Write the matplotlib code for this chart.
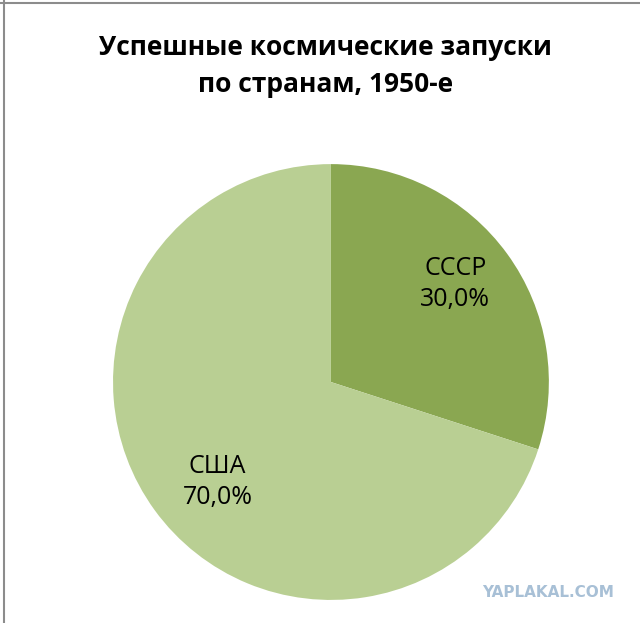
import matplotlib.pyplot as plt
from matplotlib.lines import Line2D

# data
countries = ['СССР', 'США']
shares = [30.0, 70.0]
colors = ['#8aa751', '#b9cf93']

plt.rcParams['font.family'] = ['Open Sans', 'DejaVu Sans']

fig = plt.figure(figsize=(6.4, 6.23), dpi=100)
ax = fig.add_axes([0.1766, 0.0369, 0.681, 0.6998])

labels = [f'{c}\n{v:.1f}%'.replace('.', ',') for c, v in zip(countries, shares)]
wedges, texts = ax.pie(shares, colors=colors, startangle=90, counterclock=False,
                       labels=labels, labeldistance=0.73, radius=1.0,
                       textprops={'fontsize': 18, 'color': 'black',
                                  'ha': 'center', 'va': 'center',
                                  'linespacing': 1.3})
# nudge the labels a little, like the original
x, y = texts[0].get_position()
texts[0].set_position((x - 0.02, y + 0.02))
x, y = texts[1].get_position()
texts[1].set_position((x + 0.07, y - 0.03))

ax.set_xlim(-1, 1)
ax.set_ylim(-1, 1)
ax.set_aspect('equal')

fig.text(0.508, 0.894, 'Успешные космические запуски\nпо странам, 1950-е',
         ha='center', va='center', fontsize=19, fontweight='bold',
         linespacing=1.5)

# frame lines (top and left only)
fig.add_artist(Line2D([0, 1], [1 - 3 / 623, 1 - 3 / 623], color='#8c8c8c', lw=1.5))
fig.add_artist(Line2D([4 / 640, 4 / 640], [0, 1], color='#8c8c8c', lw=1.5))

# watermark
fig.text(0.96, 0.049, 'YAPLAKAL.COM', ha='right', va='center', fontsize=11,
         fontweight='bold', color='#a8c0d6', family='DejaVu Sans')

plt.savefig('out.png', dpi=100)
